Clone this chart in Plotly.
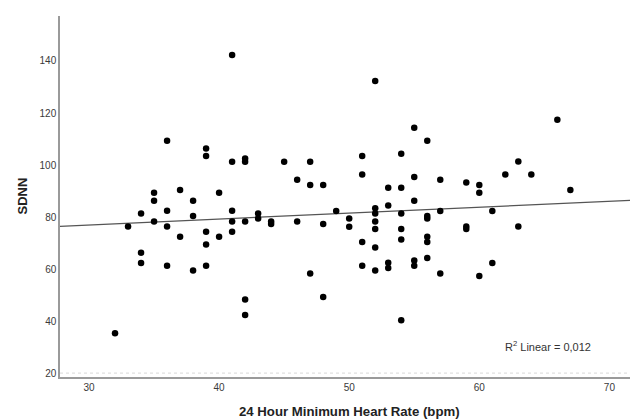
import numpy as np
import plotly.graph_objects as go

# 24 Hour Minimum Heart Rate (bpm) and SDNN values
min_hr = [32, 33,
          34, 34, 34,
          35, 35, 35,
          36, 36, 36, 36,
          37, 37,
          38, 38, 38,
          39, 39, 39, 39, 39,
          40, 40,
          41, 41, 41, 41, 41,
          42, 42, 42, 42, 42,
          43, 43,
          44, 44,
          45,
          46, 46,
          47, 47, 47,
          48, 48, 48,
          49,
          50, 50,
          51, 51, 51, 51,
          52, 52, 52, 52, 52, 52, 52,
          53, 53, 53, 53,
          54, 54, 54, 54, 54, 54,
          55, 55, 55, 55, 55,
          56, 56, 56, 56, 56, 56,
          57, 57, 57,
          59, 59, 59,
          60, 60, 60,
          61, 61,
          62,
          63, 63,
          64,
          66,
          67]
sdnn = [35.3, 76.4,
        81.4, 66.3, 62.3,
        89.3, 86.3, 78.3,
        109.3, 82.4, 76.4, 61.3,
        90.4, 72.4,
        86.3, 80.4, 59.4,
        106.4, 103.5, 74.3, 69.4, 61.3,
        89.3, 72.4,
        142.3, 101.3, 82.4, 78.3, 74.3,
        102.5, 101.3, 78.3, 48.3, 42.3,
        81.4, 79.4,
        78.3, 77.3,
        101.3,
        94.3, 78.3,
        101.3, 92.3, 58.3,
        92.3, 77.3, 49.3,
        82.3,
        79.4, 76.3,
        103.5, 96.4, 70.4, 61.3,
        132.3, 83.4, 81.4, 78.3, 75.4, 68.3, 59.4,
        91.3, 84.4, 62.4, 60.4,
        104.3, 91.3, 81.4, 75.4, 71.4, 40.3,
        114.3, 95.4, 86.3, 63.3, 61.3,
        109.3, 80.4, 79.4, 72.4, 70.4, 64.3,
        94.3, 82.3, 58.3,
        93.3, 76.4, 75.4,
        92.3, 89.3, 57.3,
        82.3, 62.3,
        96.4,
        101.4, 76.4,
        96.4,
        117.4,
        90.4]

x_ticks = [30, 40, 50, 60, 70]
y_ticks = [20, 40, 60, 80, 100, 120, 140]
x_range = [27.77, 72.2]
y_range = [18.5, 157.3]
x_title = "<b>24 Hour Minimum Heart Rate (bpm)</b>"
y_title = "<b>SDNN</b>"
r2_label = "R<sup>2</sup> Linear = 0,012"

x = np.array(min_hr, dtype=float)
y = np.array(sdnn, dtype=float)
slope, intercept = np.polyfit(x, y, 1)
fit_x = np.array(x_range)
fit_y = intercept + slope * fit_x

font_family = "Liberation Sans, Arial, sans-serif"

fig = go.Figure()
fig.add_trace(go.Scatter(
    x=fit_x, y=fit_y, mode="lines",
    line=dict(color="#555555", width=1.2),
    hoverinfo="skip", showlegend=False,
))
fig.add_trace(go.Scatter(
    x=min_hr, y=sdnn, mode="markers",
    marker=dict(color="black", size=6.5, line=dict(width=0)),
    showlegend=False,
))

fig.add_shape(type="line", xref="paper", yref="y", x0=0, x1=1, y0=20, y1=20,
              line=dict(color="#d8d8d8", width=1, dash="dot"), layer="below")

fig.add_annotation(
    x=0.922, xref="paper", y=30.3, yref="y", text=r2_label, showarrow=False,
    xanchor="right", yanchor="middle",
    font=dict(family=font_family, size=11, color="#333333"),
)
fig.add_annotation(
    x=0.5, xref="paper", y=0, yref="paper", yshift=-34.5, text=x_title,
    showarrow=False, xanchor="center", yanchor="middle",
    font=dict(family=font_family, size=13.2, color="#222222"),
)
fig.add_annotation(
    x=0, xref="paper", y=0.5, yref="paper", xshift=-38, text=y_title,
    textangle=-90, showarrow=False, xanchor="center", yanchor="middle",
    font=dict(family=font_family, size=13, color="#222222"),
)

# the page body has an 8px margin, so the figure is sized/offset to compensate
fig.update_layout(
    width=630, height=411,
    margin=dict(l=52, r=0, t=8, b=42, autoexpand=False),
    paper_bgcolor="white", plot_bgcolor="white",
    font=dict(family=font_family),
)
fig.update_xaxes(
    range=x_range, tickvals=x_ticks, showgrid=False, zeroline=False,
    showline=True, linecolor="#9a9a9a", linewidth=1.5, ticks="",
    tickfont=dict(size=10, color="#3a3a3a"), automargin=False,
)
fig.update_yaxes(
    range=y_range, tickvals=y_ticks, showgrid=False, zeroline=False,
    showline=True, linecolor="#9a9a9a", linewidth=1.5, ticks="",
    tickfont=dict(size=10, color="#3a3a3a"), automargin=False,
)

fig.write_html("out.html")
